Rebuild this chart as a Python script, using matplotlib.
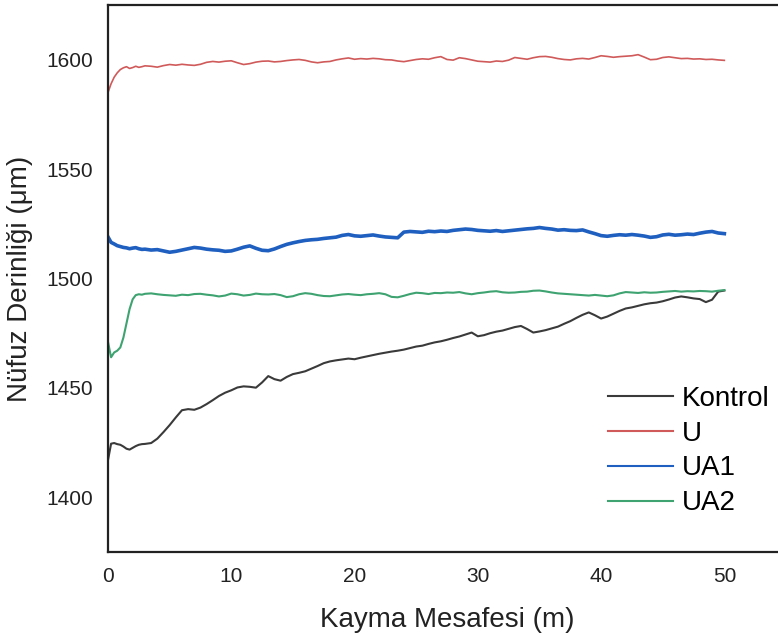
import numpy as np
import matplotlib
matplotlib.use("Agg")
import matplotlib.pyplot as plt
from matplotlib.lines import Line2D

plt.rcParams['font.family'] = ['Liberation Sans', 'DejaVu Sans']

# kayma mesafesi (m): ilk 3 m sik, sonra 0.5 m adim
mesafe = np.concatenate([np.arange(0, 3, 0.25), np.arange(3, 50.01, 0.5)])

kontrol = [1417.0, 1424.5, 1424.8, 1424.3, 1424.0, 1423.2, 1422.2, 1421.8, 1422.6, 1423.4, 1424.0, 1424.3,
           1424.4, 1424.8, 1426.8, 1429.8, 1433.0, 1436.5, 1439.8, 1440.3, 1440.0, 1441.0,
           1442.6, 1444.4, 1446.3, 1447.8, 1448.9, 1450.2, 1450.7, 1450.5, 1450.1, 1452.5,
           1455.4, 1454.0, 1453.3, 1455.0, 1456.3, 1456.9, 1457.6, 1458.8, 1460.0, 1461.3,
           1462.1, 1462.6, 1463.0, 1463.4, 1463.1, 1463.8, 1464.4, 1465.0, 1465.6, 1466.1,
           1466.6, 1467.0, 1467.5, 1468.2, 1468.9, 1469.3, 1470.1, 1470.8, 1471.3, 1472.0,
           1472.8, 1473.5, 1474.4, 1475.3, 1473.6, 1474.1, 1475.0, 1475.7, 1476.2, 1477.0,
           1477.8, 1478.3, 1476.9, 1475.3, 1475.8, 1476.4, 1477.2, 1478.0, 1479.3, 1480.5,
           1482.0, 1483.4, 1484.5, 1483.2, 1481.7, 1482.6, 1483.9, 1485.2, 1486.3, 1486.8,
           1487.5, 1488.2, 1488.7, 1489.0, 1489.6, 1490.4, 1491.3, 1491.8, 1491.4, 1490.9,
           1490.6, 1489.2, 1490.3, 1494.0, 1494.5]

u = [1585.0, 1589.0, 1592.0, 1594.0, 1595.5, 1596.3, 1596.8, 1596.0, 1596.4, 1597.0, 1596.5, 1596.8,
     1597.2, 1597.0, 1596.6, 1597.3, 1597.8, 1597.5, 1597.9, 1597.6, 1597.4, 1597.9,
     1598.8, 1599.2, 1598.9, 1599.3, 1599.5, 1598.6, 1597.8, 1598.2, 1598.9, 1599.3,
     1599.4, 1599.0, 1599.2, 1599.6, 1599.9, 1600.1, 1599.7, 1599.0, 1598.6, 1599.0,
     1599.2, 1599.9, 1600.4, 1600.8, 1600.2, 1600.5, 1600.3, 1600.6, 1600.4, 1600.0,
     1599.9, 1599.4, 1599.1, 1599.6, 1600.1, 1600.4, 1600.2, 1600.9, 1601.4, 1600.1,
     1599.8, 1600.9, 1600.5, 1599.9, 1599.3, 1599.1, 1598.9, 1599.4, 1599.2, 1599.8,
     1601.0, 1600.6, 1600.2, 1600.9, 1601.4, 1601.5, 1601.1, 1600.5, 1600.1, 1599.9,
     1600.4, 1600.6, 1600.3, 1601.0, 1601.8, 1601.5, 1601.1, 1601.4, 1601.6, 1601.8,
     1602.3, 1601.2, 1600.0, 1600.2, 1601.0, 1601.3, 1600.9, 1600.5, 1600.6, 1600.3,
     1600.4, 1600.1, 1600.2, 1599.9, 1599.7]

ua1 = [1519.0, 1516.5, 1515.8, 1515.0, 1514.6, 1514.2, 1514.0, 1513.6, 1513.9, 1514.1, 1513.6, 1513.3,
       1513.4, 1513.0, 1513.2, 1512.6, 1512.0, 1512.4, 1513.0, 1513.6, 1514.2, 1513.9,
       1513.4, 1513.1, 1512.9, 1512.4, 1512.6, 1513.4, 1514.3, 1514.9, 1513.8, 1512.9,
       1512.7, 1513.5, 1514.6, 1515.6, 1516.3, 1516.9, 1517.4, 1517.7, 1517.9, 1518.3,
       1518.6, 1518.9, 1519.7, 1520.1, 1519.5, 1519.3, 1519.6, 1519.9, 1519.4, 1519.0,
       1518.8, 1518.6, 1521.2, 1521.5, 1521.3, 1521.1, 1521.6, 1521.4, 1521.7, 1521.5,
       1522.0, 1522.3, 1522.6, 1522.4, 1522.0, 1521.8, 1521.6, 1521.9, 1521.5, 1521.8,
       1522.1, 1522.4, 1522.7, 1522.9, 1523.3, 1522.9, 1522.6, 1522.1, 1522.3, 1522.0,
       1521.9, 1522.2, 1521.3, 1520.5, 1519.6, 1519.3, 1519.7, 1520.0, 1519.8, 1520.1,
       1519.8, 1519.4, 1518.8, 1519.1, 1519.9, 1520.2, 1519.8, 1520.0, 1520.3, 1520.1,
       1520.7, 1521.2, 1521.5, 1520.8, 1520.5]

ua2 = [1471.0, 1464.0, 1466.2, 1467.0, 1468.5, 1473.0, 1479.5, 1486.0, 1490.5, 1492.4, 1492.8, 1492.6,
       1493.0, 1493.2, 1492.8, 1492.5, 1492.3, 1492.1, 1492.6, 1492.4, 1492.9, 1493.0,
       1492.6, 1492.3, 1491.8, 1492.2, 1493.1, 1492.8, 1492.2, 1492.5, 1493.1, 1492.8,
       1492.7, 1492.9, 1492.4, 1491.5, 1491.9, 1492.8, 1493.3, 1493.0, 1492.4, 1492.0,
       1491.9, 1492.3, 1492.7, 1492.9, 1492.6, 1492.4, 1492.8, 1493.0, 1493.3, 1492.8,
       1491.6, 1491.4, 1492.1, 1492.9, 1493.5, 1493.3, 1492.9, 1493.4, 1493.3, 1493.6,
       1493.5, 1493.8, 1493.2, 1492.8, 1493.3, 1493.6, 1494.0, 1494.2, 1493.7, 1493.5,
       1493.6, 1493.9, 1494.0, 1494.4, 1494.5, 1494.1, 1493.6, 1493.2, 1493.0, 1492.8,
       1492.6, 1492.4, 1492.2, 1492.5, 1492.2, 1491.9, 1492.3, 1493.2, 1493.8, 1493.6,
       1493.4, 1493.7, 1493.5, 1493.6, 1493.9, 1494.1, 1494.3, 1494.0, 1494.2, 1494.1,
       1494.3, 1494.2, 1494.0, 1494.4, 1494.7]

etiketler = ['Kontrol', 'U', 'UA1', 'UA2']
renkler = ['#3a3a3a', '#d05a5a', '#1f5fbf', '#3ea371']
kalinlik = [1.5, 1.2, 2.6, 1.5]

fig = plt.figure(figsize=(7.78, 6.37), dpi=100)
# sag kenar resmin disinda kaliyor (orijinal kirpilmis)
ax = fig.add_axes([108/778, 85/637, 678/778, 547/637])

for seri, renk, lw in zip([kontrol, u, ua1, ua2], renkler, kalinlik):
    ax.plot(mesafe, seri, color=renk, linewidth=lw)

ax.set_xlim(0, 55)
ax.set_ylim(1375, 1625)
ax.set_xticks([0, 10, 20, 30, 40, 50])
ax.set_yticks([1400, 1450, 1500, 1550, 1600])
ax.tick_params(length=0, labelsize=15, pad=11, colors='#222222')
for s in ax.spines.values():
    s.set_linewidth(1.6)
    s.set_color('#222222')

ax.set_xlabel('Kayma Mesafesi (m)', fontsize=20, labelpad=15, color='#222222')
ax.set_ylabel('Nüfuz Derinliği (μm)', fontsize=20, labelpad=9, color='#222222')

tutamaclar = [Line2D([0], [0], color=r, linewidth=1.5) for r in renkler]
fig.legend(tutamaclar, etiketler, loc='center left', bbox_to_anchor=(608/778, 1 - 451/637),
           frameon=False, fontsize=20, handlelength=2.35, handletextpad=0.3,
           labelspacing=0.32, borderpad=0, borderaxespad=0)

fig.savefig('out.png', dpi=100)
